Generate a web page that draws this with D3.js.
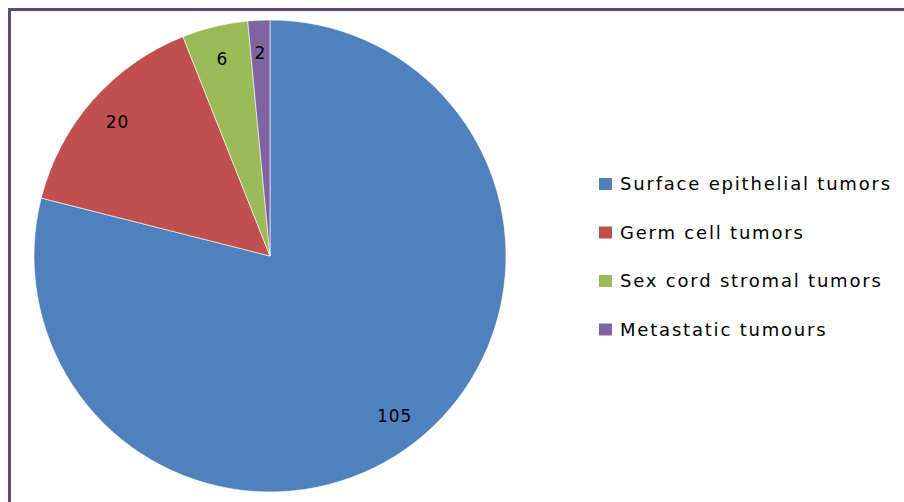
<!DOCTYPE html>
<html>
<head>
<meta charset="utf-8">
<script src="https://cdn.jsdelivr.net/npm/d3@7"></script>
<style>
  body { margin: 0; background: #fff; }
  text { font-family: "DejaVu Sans", sans-serif; fill: #000; }
</style>
</head>
<body>
<script>
// data
var categories = ["Surface epithelial tumors", "Germ cell tumors", "Sex cord stromal tumors", "Metastatic tumours"];
var counts = [105, 20, 6, 2];
var colors = ["#4F81BD", "#C0504D", "#9BBB59", "#8064A2"];

var width = 904, height = 502;
var cx = 270, cy = 256, radius = 236;

var data = categories.map(function (c, i) {
    return { name: c, value: counts[i] };
});

var color = d3.scaleOrdinal()
    .domain(categories)
    .range(colors);

var svg = d3.select("body").append("svg")
    .attr("width", width)
    .attr("height", height);

// rand om de grafiek
svg.append("rect")
    .attr("x", 9.5)
    .attr("y", 9.5)
    .attr("width", width)
    .attr("height", height)
    .attr("fill", "none")
    .attr("stroke", "#604A7B")
    .attr("stroke-width", 3);

var pie = d3.pie()
    .sort(null)
    .value(function (d) { return d.value; });

var arc = d3.arc()
    .innerRadius(0)
    .outerRadius(radius);

var labelArc = d3.arc()
    .innerRadius(radius * 0.86)
    .outerRadius(radius * 0.86);

var g = svg.append("g")
    .attr("transform", "translate(" + cx + "," + cy + ")");

var slices = g.selectAll(".arc")
    .data(pie(data))
    .enter().append("g")
    .attr("class", "arc");

slices.append("path")
    .attr("d", arc)
    .attr("fill", function (d) { return color(d.data.name); })
    .attr("stroke", "#fff")
    .attr("stroke-width", 0.6);

slices.append("text")
    .attr("transform", function (d) { return "translate(" + labelArc.centroid(d) + ")"; })
    .attr("text-anchor", "middle")
    .attr("dy", "0.35em")
    .style("font-size", "17px")
    .style("letter-spacing", "1px")
    .text(function (d) { return d.data.value; });

// legenda
var legend = svg.append("g")
    .attr("transform", "translate(599,178)");

var item = legend.selectAll(".item")
    .data(categories)
    .enter().append("g")
    .attr("class", "item")
    .attr("transform", function (d, i) { return "translate(0," + (i * 48.5) + ")"; });

item.append("rect")
    .attr("width", 13)
    .attr("height", 12)
    .attr("fill", function (d) { return color(d); });

item.append("text")
    .attr("x", 21)
    .attr("y", 6)
    .attr("dy", "0.35em")
    .style("font-size", "18px")
    .style("letter-spacing", "1.8px")
    .text(function (d) { return d; });
</script>
</body>
</html>
